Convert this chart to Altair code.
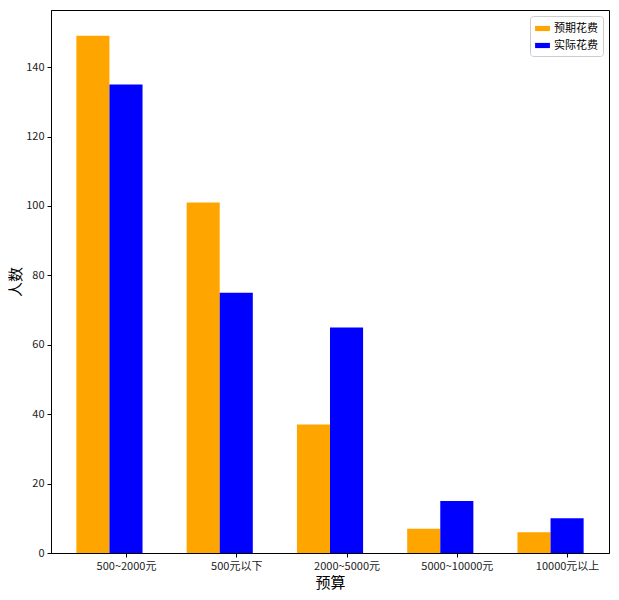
import altair as alt
import pandas as pd

categories = ["500~2000元", "500元以下", "2000~5000元", "5000~10000元", "10000元以上"]
expected = [149, 101, 37, 7, 6]
actual = [135, 75, 65, 15, 10]
series_names = ["预期花费", "实际花费"]
colors = ["orange", "blue"]

rows = []
for i, c in enumerate(categories):
    rows.append({"category": c, "idx": i, "series": series_names[0], "value": expected[i], "off": 0.0})
    rows.append({"category": c, "idx": i, "series": series_names[1], "value": actual[i], "off": 0.3})
df = pd.DataFrame(rows)

FONT = "Noto Sans CJK SC"
cat_js = "[" + ",".join("'" + c + "'" for c in categories) + "]"

chart = alt.Chart(df).transform_calculate(
    x0="datum.idx + datum.off - 0.15",
    x1="datum.idx + datum.off + 0.15",
).mark_bar(stroke=None).encode(
    x=alt.X("x0:Q",
            scale=alt.Scale(domain=[-0.38, 4.68], nice=False, zero=False),
            axis=alt.Axis(values=[0.3, 1.3, 2.3, 3.3, 4.3],
                          labelExpr=cat_js + "[round(datum.value - 0.3)]",
                          title="预算", grid=False, tickSize=4, labelPadding=3,
                          titleFontSize=15, titleFont=FONT, titleFontWeight="normal",
                          titlePadding=4, labelFontSize=11, labelFont=FONT,
                          domainColor="black", tickColor="black", labelColor="#222")),
    x2="x1:Q",
    y=alt.Y("value:Q",
            scale=alt.Scale(domain=[0, 156.45], nice=False),
            axis=alt.Axis(values=[0, 20, 40, 60, 80, 100, 120, 140], title="人数",
                          grid=False, tickSize=4, labelPadding=3,
                          titleFontSize=15, titleFont=FONT, titleFontWeight="normal",
                          titlePadding=2, labelFontSize=11, labelFont=FONT,
                          domainColor="black", tickColor="black", labelColor="#222")),
    y2=alt.datum(0),
    color=alt.Color("series:N",
                    scale=alt.Scale(domain=series_names, range=colors),
                    sort=series_names,
                    legend=alt.Legend(title=None, orient="top-right", offset=6,
                                      symbolType="M-1,-0.35L1,-0.35L1,0.35L-1,0.35Z",
                                      symbolSize=220, symbolStrokeWidth=0,
                                      labelFont=FONT, labelFontSize=11,
                                      strokeColor="#ccc", cornerRadius=3,
                                      padding=5, fillColor="white", rowPadding=4)),
).properties(
    width=558, height=543,
    autosize=alt.AutoSizeParams(type="none"),
    padding={"left": 43, "top": 2, "right": 2, "bottom": 39},
).configure_view(stroke="black", strokeWidth=1)

chart.save("out.html", embed_options={"renderer": "svg", "actions": False})
